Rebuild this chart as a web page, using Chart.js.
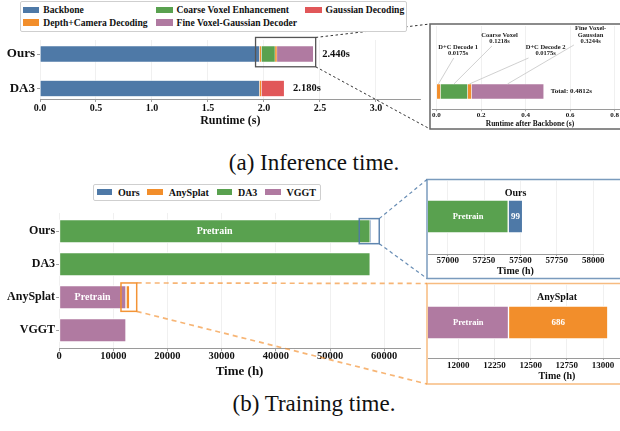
<!DOCTYPE html>
<html>
<head>
<meta charset="utf-8">
<title>Inference and training time</title>
<script src="https://cdn.jsdelivr.net/npm/chart.js@4.4.1/dist/chart.umd.min.js"></script>
<style>
  html, body { margin: 0; padding: 0; background: #fff; overflow: hidden; }
  #fig { position: relative; width: 620px; height: 431px; overflow: hidden;
         font-family: "Liberation Serif", "Times New Roman", serif; color: #111; }
  #fig canvas { position: absolute; left: 0; top: 0; }
  .legend { position: absolute; box-sizing: border-box; border: 1px solid #cfcfcf; border-radius: 2px;
            background: #fff; font-weight: bold; font-size: 10px; z-index: 5; }
  .legend .item { display: flex; align-items: center; white-space: nowrap; }
  .caption { position: absolute; left: 0; width: 628px; text-align: center; font-size: 23px; line-height: 23px; }
</style>
</head>
<body>
<div id="fig">
  <div class="caption" style="top:150.8px">(a) Inference time.</div>
  <div class="caption" style="top:391.5px">(b) Training time.</div>
</div>
<script>
// ---- inference data (seconds) ----
const inferModels = ['Ours', 'DA3'];
const backbone = [1.9588, 1.9588];
const depthCam1 = [0.0175, 0.0175];
const coarseVoxel = [0.1218, 0];
const depthCam2 = [0.0175, 0];
const fineVoxel = [0.3244, 0];
const gaussianDec = [0, 0.2037];
const inferTicks = [0, 0.5, 1, 1.5, 2, 2.5, 3];
const afterBackboneTicks = [0, 0.2, 0.4, 0.6, 0.8];
const afterBackboneNames = [['D+C Decode 1'], ['Coarse Voxel'], ['D+C Decode 2'], ['Fine Voxel-', 'Gaussian']];
const inferLegend = ['Backbone', 'Depth+Camera Decoding', 'Coarse Voxel Enhancement', 'Fine Voxel-Gaussian Decoder', 'Gaussian Decoding'];

// ---- training data (hours) ----
const trainModels = ['Ours', 'DA3', 'AnySplat', 'VGGT'];
const da3Pretrain = [57416, 57416, 0, 0];
const vggtPretrain = [0, 0, 12347, 12347];
const oursFinetune = [99, 0, 0, 0];
const anysplatFinetune = [0, 0, 686, 0];
const pretrainTags = ['Pretrain', '', 'Pretrain', ''];
const trainTicks = [0, 10000, 20000, 30000, 40000, 50000, 60000];
const oursZoomTicks = [57000, 57250, 57500, 57750, 58000];
const anyZoomTicks = [12000, 12250, 12500, 12750, 13000, 13250, 13500];
const trainLegend = ['Ours', 'AnySplat', 'DA3', 'VGGT'];

// ---- look ----
const W = 700, H = 431;
const serif = '"Liberation Serif", "Times New Roman", serif';
const COL = { blue: '#4e79a7', orange: '#f28e2b', green: '#59a14f', red: '#e15759', purple: '#b07aa1' };
Chart.defaults.font.family = serif;
Chart.defaults.font.weight = 'bold';
Chart.defaults.color = '#111';

const frameInfer = { x: 430, y: 24, w: 300, h: 105 };
const frameOurs = { x: 427, y: 179.5, w: 300, h: 99 };
const frameAny = { x: 427, y: 283.5, w: 300, h: 100.5 };
const inferWindow = { x0: 1.925, x1: 2.462, y0: -0.48, y1: 0.37 };
const oursWindow = { x0: 55390, x1: 59080, y0: -0.38, y1: 0.38 };
const anyWindow = { x0: 11420, x1: 14320, y0: 1.57, y1: 2.43 };

const fig = document.getElementById('fig');

function points(values, rows) {
  return values.map((v, i) => ({ x: v, y: i })).filter(p => p.x > 0 && (!rows || rows.includes(p.y)));
}

function bars(values, color, thickness, borderWidth, rows) {
  return { data: points(values, rows), backgroundColor: color, borderColor: '#fff',
           borderWidth, borderSkipped: false, barThickness: thickness };
}

function boxPx(x, y, w) {
  return { l: x.getPixelForValue(w.x0), r: x.getPixelForValue(w.x1), t: y.getPixelForValue(w.y0), b: y.getPixelForValue(w.y1) };
}

function dashed(ctx, segs, color, dash, lw) {
  ctx.save();
  ctx.strokeStyle = color; ctx.setLineDash(dash); ctx.lineWidth = lw;
  segs.forEach(([x1, y1, x2, y2]) => { ctx.beginPath(); ctx.moveTo(x1, y1); ctx.lineTo(x2, y2); ctx.stroke(); });
  ctx.restore();
}

function strokeBox(ctx, b, color, lw) {
  ctx.save(); ctx.strokeStyle = color; ctx.lineWidth = lw;
  ctx.strokeRect(b.l, b.t, b.r - b.l, b.b - b.t); ctx.restore();
}

function makeChart(cfg) {
  const canvas = document.createElement('canvas');
  canvas.width = W; canvas.height = H;
  canvas.style.width = W + 'px'; canvas.style.height = H + 'px';
  fig.appendChild(canvas);
  const a = cfg.area, xs = cfg.x, ys = cfg.y;
  const yw = ys.labels ? ys.width : 0;
  return new Chart(canvas, {
    type: 'bar',
    data: { datasets: cfg.datasets },
    plugins: cfg.plugins || [],
    options: {
      indexAxis: 'y', responsive: false, animation: false, events: [],
      layout: { padding: { left: a.left - yw, top: a.top, right: W - a.right, bottom: H - a.bottom - xs.height } },
      plugins: { legend: { display: false }, tooltip: { enabled: false } },
      scales: {
        x: {
          type: 'linear', stacked: true, min: xs.min, max: xs.max, offset: false,
          afterBuildTicks: s => { s.ticks = xs.ticks.map(v => ({ value: v })); },
          afterFit: s => { s.height = xs.height; },
          ticks: { callback: xs.format, font: { size: xs.font }, padding: xs.pad, maxRotation: 0, autoSkip: false },
          grid: { color: '#ececec', lineWidth: 0.8, tickLength: xs.tick, tickColor: '#888', tickWidth: 0.8, offset: false },
          border: { color: '#9a9a9a', width: 1 },
          title: { display: true, text: xs.title, font: { size: xs.titleFont }, padding: 0 }
        },
        y: {
          type: 'linear', stacked: true, reverse: true, min: ys.min, max: ys.max, offset: false, bounds: 'data',
          display: !!ys.labels,
          afterBuildTicks: s => { s.ticks = (ys.labels || []).map((_, i) => ({ value: i })); },
          afterFit: s => { s.width = yw; },
          ticks: { callback: (v, i) => (ys.labels ? ys.labels[i] : ''), font: { size: ys.font }, padding: ys.pad },
          grid: { drawOnChartArea: false, tickLength: 3, tickColor: '#888', tickWidth: 0.8, offset: false },
          border: { display: false }
        }
      }
    }
  });
}

// ---- (a) main inference bars ----
const inferStages = [backbone, depthCam1, coarseVoxel, depthCam2, fineVoxel, gaussianDec];
const inferColors = [COL.blue, COL.orange, COL.green, COL.orange, COL.purple, COL.red];

makeChart({
  area: { left: 40, top: 40, right: 420.7, bottom: 99 },
  x: { min: 0, max: 3.4, ticks: inferTicks, format: v => v.toFixed(1), font: 10, pad: 0, tick: 3,
       height: 29.2, title: 'Runtime (s)', titleFont: 12 },
  y: { min: -0.406, max: 1.304, labels: inferModels, font: 13, pad: 2, width: 40 },
  datasets: inferStages.map((arr, k) => bars(arr, inferColors[k], 16, 0.5)),
  plugins: [{
    id: 'inferMarks',
    afterDraw(chart) {
      const { ctx, scales: { x, y } } = chart;
      ctx.save();
      ctx.font = 'bold 10.5px ' + serif; ctx.fillStyle = '#111';
      ctx.textAlign = 'left'; ctx.textBaseline = 'middle';
      inferModels.forEach((m, i) => {
        const total = inferStages.reduce((s, arr) => s + arr[i], 0);
        ctx.fillText(total.toFixed(3) + 's', x.getPixelForValue(total) + 9, y.getPixelForValue(i));
      });
      ctx.restore();
      const b = boxPx(x, y, inferWindow);
      strokeBox(ctx, b, '#555', 1.3);
      dashed(ctx, [[b.r, b.t, frameInfer.x, frameInfer.y], [b.r, b.b, frameInfer.x, frameInfer.y + frameInfer.h]],
             '#333', [2.5, 2.5], 1);
    }
  }]
});

// ---- (a) inset: runtime after backbone ----
const postStages = [depthCam1, coarseVoxel, depthCam2, fineVoxel];
const postColors = [COL.orange, COL.green, COL.orange, COL.purple];
const annotX = [0.0975, 0.283, 0.49, 0.692];   // text centre, data units
const annotRise = [27, 39, 27, 39];            // text bottom above bar top, px

makeChart({
  area: { left: 432, top: 26, right: 628, bottom: 109.3 },
  x: { min: -0.02, max: 0.86, ticks: afterBackboneTicks, format: v => v.toFixed(1), font: 7, pad: 0, tick: 2,
       height: 19.5, title: 'Runtime after Backbone (s)', titleFont: 7.5 },
  y: { min: -0.786, max: 0.214 },
  datasets: postStages.map((arr, k) => bars(arr, postColors[k], 15, 0.5, [0])),
  plugins: [{
    id: 'postMarks',
    beforeDraw(chart) {
      const ctx = chart.ctx;
      ctx.save(); ctx.strokeStyle = '#666'; ctx.lineWidth = 1.5;
      ctx.strokeRect(frameInfer.x, frameInfer.y, frameInfer.w, frameInfer.h); ctx.restore();
    },
    afterDraw(chart) {
      const { ctx, scales: { x, y } } = chart;
      const barTop = y.getPixelForValue(0) - 7.5;
      ctx.save();
      ctx.font = 'bold 6.5px ' + serif; ctx.textAlign = 'center'; ctx.textBaseline = 'middle';
      let cum = 0;
      postStages.forEach((arr, k) => {
        const v = arr[0];
        const mid = x.getPixelForValue(cum + v / 2);
        cum += v;
        const lines = [...afterBackboneNames[k], v.toFixed(4) + 's'];
        const lh = 6.5, hh = lines.length * lh / 2;
        const cx = x.getPixelForValue(annotX[k]);
        const cy = barTop - annotRise[k] - hh;
        const hw = Math.max(...lines.map(l => ctx.measureText(l).width)) / 2 + 1;
        const dx = mid - cx, dy = barTop - cy;
        const t = Math.min(hw / Math.max(Math.abs(dx), 1e-6), (hh + 1) / Math.abs(dy));
        ctx.strokeStyle = '#c4c4c4'; ctx.lineWidth = 0.8;
        ctx.beginPath(); ctx.moveTo(cx + dx * t, cy + dy * t); ctx.lineTo(mid, barTop); ctx.stroke();
        ctx.fillStyle = '#222';
        lines.forEach((l, j) => ctx.fillText(l, cx, cy - hh + lh * (j + 0.5)));
      });
      ctx.font = 'bold 7px ' + serif; ctx.textAlign = 'left'; ctx.fillStyle = '#111';
      ctx.fillText('Total: ' + cum.toFixed(4) + 's', x.getPixelForValue(cum) + 7, y.getPixelForValue(0));
      ctx.restore();
    }
  }]
});

// ---- (b) main training bars ----
const trainStages = [da3Pretrain, vggtPretrain, oursFinetune, anysplatFinetune];
const trainColors = [COL.green, COL.purple, COL.blue, COL.orange];

makeChart({
  area: { left: 59.1, top: 213, right: 420, bottom: 348.3 },
  x: { min: 0, max: 66600, ticks: trainTicks, format: v => String(v), font: 10.5, pad: -1, tick: 3,
       height: 31.2, title: 'Time (h)', titleFont: 13 },
  y: { min: -0.55, max: 3.55, labels: trainModels, font: 12, pad: 1, width: 59.1 },
  datasets: trainStages.map((arr, k) => bars(arr, trainColors[k], 23.3, 1)),
  plugins: [{
    id: 'trainMarks',
    afterDatasetsDraw(chart) {
      const { ctx, scales: { x, y } } = chart;
      ctx.save();
      ctx.font = 'bold 10px ' + serif; ctx.fillStyle = '#fff';
      ctx.textAlign = 'center'; ctx.textBaseline = 'middle';
      [da3Pretrain, vggtPretrain].forEach(arr => {
        arr.forEach((v, i) => {
          if (!v || !pretrainTags[i]) return;
          ctx.fillText(pretrainTags[i], (x.getPixelForValue(0) + x.getPixelForValue(v)) / 2, y.getPixelForValue(i));
        });
      });
      ctx.restore();
    },
    afterDraw(chart) {
      const { ctx, scales: { x, y } } = chart;
      const bo = boxPx(x, y, oursWindow);
      strokeBox(ctx, bo, 'rgba(78,121,167,0.9)', 1.5);
      dashed(ctx, [[bo.r, bo.t, frameOurs.x, frameOurs.y], [bo.r, bo.b, frameOurs.x, frameOurs.y + frameOurs.h]],
             'rgba(78,121,167,0.85)', [3.5, 3], 1.2);
      const ba = boxPx(x, y, anyWindow);
      strokeBox(ctx, ba, 'rgba(242,142,43,0.95)', 1.5);
      dashed(ctx, [[ba.r, ba.t, frameAny.x, frameAny.y], [ba.r, ba.b, frameAny.x, frameAny.y + frameAny.h]],
             'rgba(242,142,43,0.65)', [5, 4], 1.7);
    }
  }]
});

// ---- (b) zoom insets ----
function insetPlugin(frame, frameColor, title, row, pre, fine) {
  return {
    id: 'inset' + row,
    beforeDraw(chart) {
      const ctx = chart.ctx;
      ctx.save(); ctx.strokeStyle = frameColor; ctx.lineWidth = 1.5;
      ctx.strokeRect(frame.x, frame.y, frame.w, frame.h); ctx.restore();
    },
    afterDatasetsDraw(chart) {
      const { ctx, chartArea, scales: { x, y } } = chart;
      ctx.save();
      ctx.textAlign = 'center'; ctx.textBaseline = 'middle';
      ctx.font = 'bold 10px ' + serif; ctx.fillStyle = '#111';
      ctx.fillText(title, (chartArea.left + chartArea.right) / 2, chartArea.top + 12.5);
      const p = pre[row], f = fine[row];
      const cy = y.getPixelForValue(row);
      const pl = Math.max(x.getPixelForValue(0), chartArea.left), pr = x.getPixelForValue(p);
      ctx.fillStyle = '#fff';
      ctx.font = 'bold 8.5px ' + serif;
      ctx.fillText('Pretrain', (pl + pr) / 2, cy);
      ctx.font = 'bold 9px ' + serif;
      ctx.fillText(String(f), (pr + x.getPixelForValue(p + f)) / 2, cy);
      ctx.restore();
    }
  };
}

makeChart({
  area: { left: 428, top: 181, right: 603, bottom: 254 },
  x: { min: 56865, max: 58067, ticks: oursZoomTicks, format: v => String(v), font: 9, pad: -1, tick: 2,
       height: 23, title: 'Time (h)', titleFont: 10 },
  y: { min: -0.486, max: 0.514 },
  datasets: [bars(da3Pretrain, COL.green, 33, 1, [0]), bars(oursFinetune, COL.blue, 33, 1, [0])],
  plugins: [insetPlugin(frameOurs, 'rgba(78,121,167,0.75)', 'Ours', 0, da3Pretrain, oursFinetune)]
});

makeChart({
  area: { left: 428, top: 284.5, right: 686, bottom: 358 },
  x: { min: 11791, max: 13573, ticks: anyZoomTicks, format: v => String(v), font: 9, pad: 0, tick: 2,
       height: 24.7, title: 'Time (h)', titleFont: 10 },
  y: { min: 1.483, max: 2.483 },
  datasets: [bars(vggtPretrain, COL.purple, 33, 1, [2]), bars(anysplatFinetune, COL.orange, 33, 1, [2])],
  plugins: [insetPlugin(frameAny, 'rgba(242,142,43,0.6)', 'AnySplat', 2, vggtPretrain, anysplatFinetune)]
});

// ---- legends (html) ----
function legendItem(label, color, swW, swH, gap) {
  const it = document.createElement('div');
  it.className = 'item';
  const sw = document.createElement('span');
  sw.style.cssText = `display:inline-block;flex:none;width:${swW}px;height:${swH}px;margin-right:${gap}px;background:${color}`;
  it.appendChild(sw);
  it.appendChild(document.createTextNode(label));
  return it;
}

const topLegend = document.createElement('div');
topLegend.className = 'legend';
topLegend.style.cssText = 'left:20px;top:1px;width:387px;height:31px;display:grid;grid-auto-flow:column;' +
  'grid-template-columns:133.3px 149px auto;grid-template-rows:12.7px 12.7px;padding:1.6px 0 0 1.7px;font-size:9.6px';
const topLegendColors = [COL.blue, COL.orange, COL.green, COL.purple, COL.red];
inferLegend.forEach((l, i) => topLegend.appendChild(legendItem(l, topLegendColors[i], 16.6, 6.7, 4)));
fig.appendChild(topLegend);

const botLegend = document.createElement('div');
botLegend.className = 'legend';
botLegend.style.cssText = 'left:93px;top:184px;width:228px;height:16.7px;display:flex;align-items:center;padding-left:2.7px';
const botLegendColors = [COL.blue, COL.orange, COL.green, COL.purple];
trainLegend.forEach((l, i) => {
  const it = legendItem(l, botLegendColors[i], 15.8, 6, 5.6);
  it.style.marginRight = '7.7px';
  botLegend.appendChild(it);
});
fig.appendChild(botLegend);
</script>
</body>
</html>
